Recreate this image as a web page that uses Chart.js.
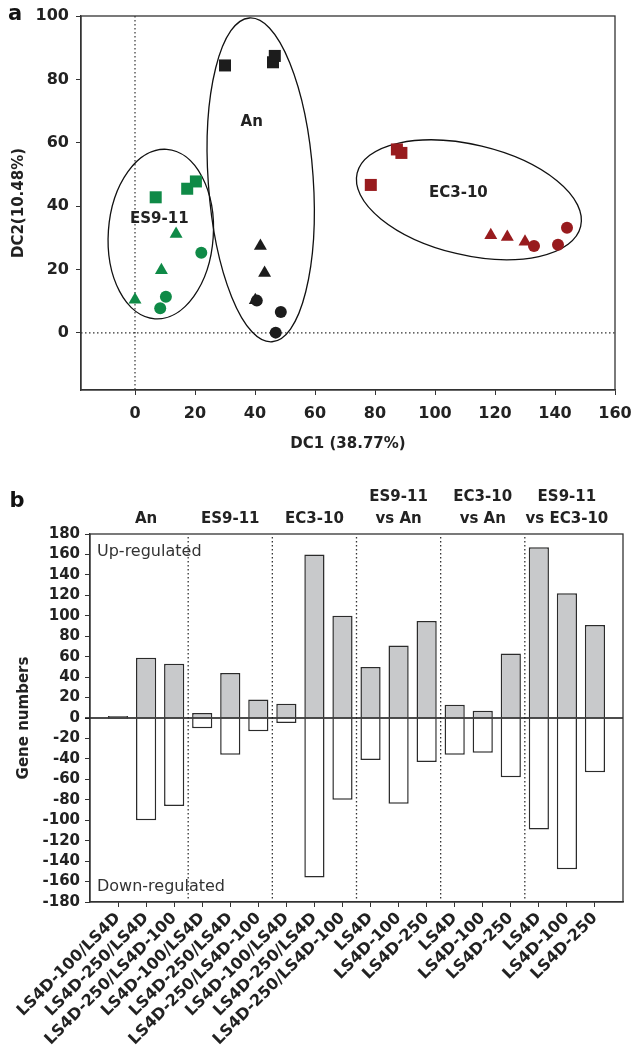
<!DOCTYPE html>
<html>
<head>
<meta charset="utf-8">
<script src="https://cdn.jsdelivr.net/npm/chart.js@4.4.1/dist/chart.umd.min.js"></script>
<style>
  body { margin: 0; background: #fff; }
  #wrapA { position: absolute; left: 0; top: 0; width: 633px; height: 460px; }
  #wrapB { position: absolute; left: 0; top: 460px; width: 633px; height: 586px; }
</style>
</head>
<body>
<div id="wrapA"><canvas id="dcChart"></canvas></div>
<div id="wrapB"><canvas id="geneChart"></canvas></div>
<script>
// ---- panel a: discriminant scores (DC1, DC2) ----
const esCircles   = [{x: 8.4, y: 7.8}, {x: 10.3, y: 11.4}, {x: 22.1, y: 25.3}];
const esTriangles = [{x: 0, y: 10.5}, {x: 8.8, y: 19.8}, {x: 13.7, y: 31.2}];
const esSquares   = [{x: 6.9, y: 42.8}, {x: 17.4, y: 45.5}, {x: 20.3, y: 47.8}];
const anCircles   = [{x: 40.6, y: 10.2}, {x: 48.6, y: 6.6}, {x: 46.9, y: 0.1}];
const anTriangles = [{x: 40.1, y: 10.3}, {x: 41.8, y: 27.4}, {x: 43.2, y: 18.9}];
const anSquares   = [{x: 30, y: 84.4}, {x: 46, y: 85.4}, {x: 46.6, y: 87.4}];
const ecCircles   = [{x: 133, y: 27.4}, {x: 141, y: 27.8}, {x: 144, y: 33.2}];
const ecTriangles = [{x: 118.6, y: 30.8}, {x: 124.1, y: 30.3}, {x: 130, y: 28.8}];
const ecSquares   = [{x: 87.3, y: 57.9}, {x: 88.8, y: 56.8}, {x: 78.6, y: 46.7}];
const dcXTicks = [0, 20, 40, 60, 80, 100, 120, 140, 160];
const dcYTicks = [0, 20, 40, 60, 80, 100];

// ---- panel b: differentially expressed genes ----
const barLabels = [
  'LS4D-100/LS4D', 'LS4D-250/LS4D', 'LS4D-250/LS4D-100',
  'LS4D-100/LS4D', 'LS4D-250/LS4D', 'LS4D-250/LS4D-100',
  'LS4D-100/LS4D', 'LS4D-250/LS4D', 'LS4D-250/LS4D-100',
  'LS4D', 'LS4D-100', 'LS4D-250',
  'LS4D', 'LS4D-100', 'LS4D-250',
  'LS4D', 'LS4D-100', 'LS4D-250'
];
const upGenes   = [2, 59, 53, 5, 44, 18, 14, 160, 100, 50, 71, 95, 13, 7, 63, 167, 122, 91];
const downGenes = [-1, -100, -86, -10, -36, -13, -5, -156, -80, -41, -84, -43, -36, -34, -58, -109, -148, -53];
const groupNames = [['An'], ['ES9-11'], ['EC3-10'], ['ES9-11', 'vs An'], ['EC3-10', 'vs An'], ['ES9-11', 'vs EC3-10']];
const groupSize = 3;

const FONT = 'DejaVu Sans';
const INK = '#222';
Chart.defaults.font.family = FONT;
Chart.defaults.color = INK;

const GREEN = '#0f8a47';
const RED = '#981b1e';
const BLACK = '#1c1c1c';

// cluster outlines, in data units (tilt in degrees on screen)
const clusters = [
  {name: 'ES9-11', cx: 8.6, cy: 31.2, rx: 17.5, ry: 26.8, tilt: 4, lx: 8.1, ly: 36},
  {name: 'An', cx: 41.9, cy: 48.3, rx: 17.5, ry: 51.2, tilt: -4, lx: 38.9, ly: 66.5},
  {name: 'EC3-10', cx: 111.3, cy: 42, rx: 38.3, ry: 17.4, tilt: 13.4, lx: 107.8, ly: 44}
];

const mk = (data, color, style, radius) => ({
  data, pointStyle: style, pointRadius: radius, pointHoverRadius: radius,
  backgroundColor: color, borderColor: color, borderWidth: 0
});

const panelA = {
  id: 'panelA',
  beforeDatasetsDraw(chart) {
    const {ctx, chartArea: a, scales: {x, y}} = chart;
    ctx.save();
    ctx.strokeStyle = '#333';
    ctx.lineWidth = 1.2;
    ctx.setLineDash([1.5, 2.5]);
    ctx.beginPath();
    ctx.moveTo(x.getPixelForValue(0), a.top);
    ctx.lineTo(x.getPixelForValue(0), a.bottom);
    ctx.moveTo(a.left, y.getPixelForValue(0));
    ctx.lineTo(a.right, y.getPixelForValue(0));
    ctx.stroke();
    ctx.setLineDash([]);
    ctx.strokeStyle = '#111';
    ctx.lineWidth = 1.3;
    clusters.forEach(c => {
      const px = x.getPixelForValue(c.cx), py = y.getPixelForValue(c.cy);
      const rx = Math.abs(x.getPixelForValue(c.cx + c.rx) - px);
      const ry = Math.abs(y.getPixelForValue(c.cy + c.ry) - py);
      ctx.beginPath();
      ctx.ellipse(px, py, rx, ry, c.tilt * Math.PI / 180, 0, 2 * Math.PI);
      ctx.stroke();
    });
    ctx.fillStyle = INK;
    ctx.font = `bold 15px "${FONT}"`;
    ctx.textAlign = 'center';
    ctx.textBaseline = 'middle';
    clusters.forEach(c => ctx.fillText(c.name, x.getPixelForValue(c.lx), y.getPixelForValue(c.ly)));
    ctx.restore();
  },
  afterDraw(chart) {
    const {ctx, chartArea: a} = chart;
    ctx.save();
    ctx.strokeStyle = '#333';
    ctx.lineWidth = 1.3;
    ctx.strokeRect(a.left, a.top, a.right - a.left, a.bottom - a.top);
    ctx.fillStyle = '#111';
    ctx.font = `bold 21px "${FONT}"`;
    ctx.textAlign = 'center';
    ctx.textBaseline = 'middle';
    ctx.fillText('a', 15, 15);
    ctx.restore();
  }
};

new Chart(document.getElementById('dcChart'), {
  type: 'scatter',
  data: {
    datasets: [
      mk(esCircles, GREEN, 'circle', 6), mk(anCircles, BLACK, 'circle', 6), mk(ecCircles, RED, 'circle', 6),
      mk(esTriangles, GREEN, 'triangle', 7.5), mk(anTriangles, BLACK, 'triangle', 7.5), mk(ecTriangles, RED, 'triangle', 7.5),
      mk(esSquares, GREEN, 'rect', 8.5), mk(anSquares, BLACK, 'rect', 8.5), mk(ecSquares, RED, 'rect', 8.5)
    ]
  },
  options: {
    responsive: true,
    maintainAspectRatio: false,
    animation: false,
    layout: { padding: { left: 0, top: 16, right: 18, bottom: 0 } },
    plugins: { legend: { display: false }, tooltip: { enabled: false } },
    scales: {
      x: {
        type: 'linear', min: -18, max: 160,
        afterBuildTicks: s => { s.ticks = dcXTicks.map(v => ({value: v})); },
        afterFit: s => { s.height = 70; s.paddingLeft = 0; s.paddingRight = 0; },
        grid: { drawOnChartArea: false, drawTicks: true, tickLength: 5, color: '#333' },
        border: { color: '#333', width: 1.3 },
        ticks: { font: { size: 16, weight: 'bold' }, padding: 9, color: INK },
        title: { display: true, text: 'DC1 (38.77%)', font: { size: 15, weight: 'bold' }, padding: { top: 0, bottom: 7 }, color: INK }
      },
      y: {
        type: 'linear', min: -18, max: 100,
        afterBuildTicks: s => { s.ticks = dcYTicks.map(v => ({value: v})); },
        afterFit: s => { s.width = 81; s.paddingTop = 0; s.paddingBottom = 0; },
        grid: { drawOnChartArea: false, drawTicks: true, tickLength: 5, color: '#333' },
        border: { color: '#333', width: 1.3 },
        ticks: { font: { size: 16, weight: 'bold' }, padding: 7, color: INK },
        title: { display: true, text: 'DC2(10.48%)', font: { size: 15, weight: 'bold' }, padding: { top: 10, bottom: 0 }, color: INK }
      }
    }
  },
  plugins: [panelA]
});

// ---- panel b ----
const panelB = {
  id: 'panelB',
  beforeDatasetsDraw(chart) {
    const {ctx, chartArea: a, scales: {x}} = chart;
    ctx.save();
    ctx.strokeStyle = '#333';
    ctx.lineWidth = 1.3;
    ctx.setLineDash([1.5, 2.5]);
    for (let g = 1; g < groupNames.length; g++) {
      const px = x.getPixelForValue(g * groupSize - 0.5);
      ctx.beginPath();
      ctx.moveTo(px, a.top + 3);
      ctx.lineTo(px, a.bottom);
      ctx.stroke();
    }
    ctx.restore();
  },
  afterDraw(chart) {
    const {ctx, chartArea: a, scales: {x, y}} = chart;
    ctx.save();
    // zero line
    ctx.strokeStyle = '#111';
    ctx.lineWidth = 1.3;
    ctx.beginPath();
    ctx.moveTo(a.left - 5, y.getPixelForValue(0));
    ctx.lineTo(a.right, y.getPixelForValue(0));
    ctx.stroke();
    ctx.strokeStyle = '#333';
    ctx.strokeRect(a.left, a.top, a.right - a.left, a.bottom - a.top);
    // group headers
    ctx.fillStyle = INK;
    ctx.font = `bold 15px "${FONT}"`;
    ctx.textAlign = 'center';
    ctx.textBaseline = 'middle';
    groupNames.forEach((lines, g) => {
      const px = x.getPixelForValue(g * groupSize + (groupSize - 1) / 2);
      lines.forEach((t, k) => ctx.fillText(t, px, a.top - 15 - (lines.length - 1 - k) * 22));
    });
    ctx.font = `16px "${FONT}"`;
    ctx.textAlign = 'left';
    ctx.fillStyle = '#333';
    ctx.fillText('Up-regulated', a.left + 7, a.top + 18);
    ctx.fillText('Down-regulated', a.left + 7, a.bottom - 15);
    ctx.fillStyle = '#111';
    ctx.font = `bold 21px "${FONT}"`;
    ctx.textAlign = 'center';
    ctx.fillText('b', 17, 42);
    ctx.restore();
  }
};

new Chart(document.getElementById('geneChart'), {
  type: 'bar',
  data: {
    datasets: [
      {
        label: 'Up-regulated',
        data: upGenes.map((v, i) => ({x: i, y: v})),
        backgroundColor: '#c8c9cb', borderColor: '#2b2b2b', borderWidth: 1.5, borderSkipped: 'start'
      },
      {
        label: 'Down-regulated',
        data: downGenes.map((v, i) => ({x: i, y: v})),
        backgroundColor: '#ffffff', borderColor: '#2b2b2b', borderWidth: 1.5, borderSkipped: 'start'
      }
    ]
  },
  options: {
    responsive: true,
    maintainAspectRatio: false,
    animation: false,
    layout: { padding: { left: 0, top: 74, right: 10, bottom: 0 } },
    plugins: { legend: { display: false }, tooltip: { enabled: false } },
    scales: {
      x: {
        type: 'linear', min: -1, max: 18, stacked: true, offset: false,
        afterBuildTicks: s => { s.ticks = barLabels.map((_, i) => ({value: i})); },
        afterFit: s => { s.height = 144; s.paddingRight = 0; },
        grid: { offset: false, drawOnChartArea: false, drawTicks: true, tickLength: 5, color: '#333' },
        border: { color: '#333', width: 1.3 },
        ticks: {
          autoSkip: false, maxRotation: 45, minRotation: 45, padding: 2,
          font: { size: 16, weight: 'bold' }, color: INK,
          callback: v => barLabels[v]
        }
      },
      y: {
        min: -180, max: 180, stacked: true,
        afterFit: s => { s.width = 90; },
        grid: { drawOnChartArea: false, drawTicks: true, tickLength: 5, color: '#333' },
        border: { color: '#333', width: 1.3 },
        ticks: { stepSize: 20, autoSkip: false, font: { size: 15, weight: 'bold' }, padding: 5, color: INK },
        title: { display: true, text: 'Gene numbers', font: { size: 15, weight: 'bold' }, padding: { top: 15, bottom: 0 }, color: INK }
      }
    }
  },
  plugins: [panelB]
});
</script>
</body>
</html>
